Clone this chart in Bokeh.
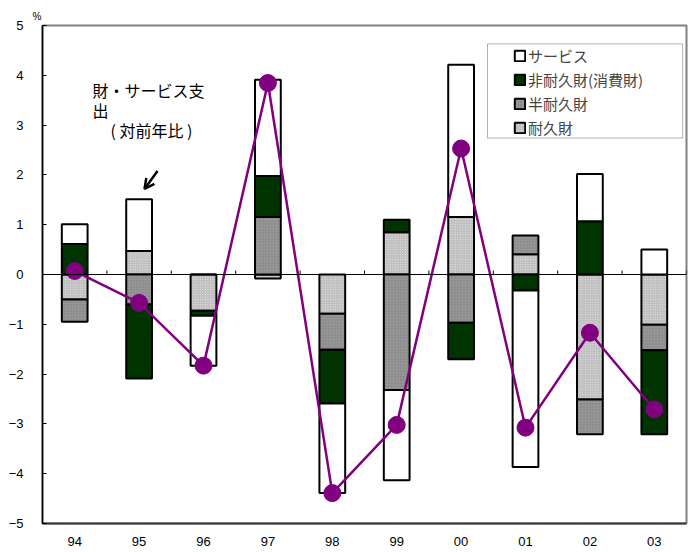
import numpy as np
from bokeh.plotting import figure
from bokeh.models import (Range1d, FixedTicker, Span, Label, Arrow, OpenHead,
                          Legend, LegendItem, BoxAnnotation, ColumnDataSource)
from bokeh.embed import file_html
from bokeh.resources import INLINE

# Contributions to year-on-year change in goods & services spending (%)
years = ["94", "95", "96", "97", "98", "99", "00", "01", "02", "03"]
durables = [-0.50, 0.47, -0.73, -0.08, -0.79, 0.85, 1.155, 0.405, -2.51, -1.01]
semi_durables = [-0.45, -0.60, 0.0, 1.155, -0.72, -2.32, -0.97, 0.38, -0.70, -0.51]
non_durables = [0.61, -1.49, -0.10, 0.825, -1.08, 0.25, -0.73, -0.32, 1.07, -1.69]
services = [0.40, 1.04, -1.00, 1.93, -1.80, -1.81, 3.055, -3.545, 0.95, 0.50]
total = [0.07, -0.57, -1.83, 3.845, -4.39, -3.02, 2.53, -3.075, -1.17, -2.71]

y_ticks = [-5, -4, -3, -2, -1, 0, 1, 2, 3, 4, 5]

JP = "Noto Sans CJK JP"
NUM = "Liberation Sans"

n = len(years)
xs = np.arange(n) + 0.5

p = figure(width=690, height=552, x_range=Range1d(0, n), y_range=Range1d(-5, 5),
           output_backend="svg", toolbar_location=None,
           min_border_left=42, min_border_right=4, min_border_top=25,
           min_border_bottom=29)
p.xgrid.visible = False
p.ygrid.visible = False
p.outline_line_color = "#808080"
p.outline_line_width = 2

# unit mark above the value axis
p.title.text = "%"
p.title.align = "left"
p.title.offset = -10
p.title.standoff = 7
p.title.text_font = NUM
p.title.text_font_size = "10px"
p.title.text_font_style = "normal"
p.title.text_color = "black"

# stacked segments: positives stack upward, negatives downward, same order
series = [
    ("耐久財", durables, dict(fill_color="white", hatch_pattern="\\",
                             hatch_color="#b4b4b4", hatch_scale=2.5, hatch_weight=1)),
    ("半耐久財", semi_durables, dict(fill_color="#969696", hatch_pattern=".",
                                 hatch_color="#7c7c7c", hatch_scale=3, hatch_weight=1)),
    ("非耐久財(消費財)", non_durables, dict(fill_color="#003300")),
    ("サービス", services, dict(fill_color="white")),
]

pos_base = np.zeros(n)
neg_base = np.zeros(n)
renderers = {}
for name, vals, style in series:
    v = np.array(vals, dtype=float)
    bottom = np.where(v >= 0, pos_base, neg_base)
    top = bottom + v
    pos_base = np.where(v >= 0, top, pos_base)
    neg_base = np.where(v < 0, top, neg_base)
    src = ColumnDataSource(dict(x=xs, bottom=bottom, top=top))
    r = p.vbar(x="x", width=0.4, bottom="bottom", top="top", source=src,
               line_color="black", line_width=2, **style)
    renderers[name] = r

# zero line with category-boundary ticks
p.add_layout(Span(location=0, dimension="width", line_color="black", line_width=1))
bounds = np.arange(1, n + 1)
p.segment(x0=bounds, y0=np.zeros(n), x1=bounds, y1=np.full(n, 0.08),
          line_color="black", line_width=1)

# total line
p.line(xs, total, line_color="#800080", line_width=2.5)
p.scatter(xs, total, size=17, fill_color="#800080", line_color="#800080")

# axes
p.xaxis.ticker = FixedTicker(ticks=list(xs))
p.xaxis.major_label_overrides = {float(x): y for x, y in zip(xs, years)}
p.xaxis.major_tick_in = 0
p.xaxis.major_tick_out = 0
p.xaxis.minor_tick_line_color = None
p.xaxis.axis_line_color = "#3a3a3a"
p.xaxis.axis_line_width = 2
p.xaxis.major_label_standoff = 13
p.xaxis.major_label_text_font = NUM
p.xaxis.major_label_text_font_size = "13px"
p.xaxis.major_label_text_color = "black"

p.yaxis.ticker = FixedTicker(ticks=y_ticks)
p.yaxis.major_tick_in = 4
p.yaxis.major_tick_out = 0
p.yaxis.minor_tick_line_color = None
p.yaxis.axis_line_color = "black"
p.yaxis.axis_line_width = 1.5
p.yaxis.major_label_standoff = 19
p.yaxis.major_label_text_font = NUM
p.yaxis.major_label_text_font_size = "13px"
p.yaxis.major_label_text_color = "black"

# annotation text and arrow
for txt, tx, ty in [("財・サービス支", 0.776, 3.70), ("出", 0.776, 3.31),
                    ("( 対前年比 )", 1.056, 2.91)]:
    p.add_layout(Label(x=tx, y=ty, text=txt, text_font=JP, text_font_size="16px",
                       text_baseline="middle", text_color="black"))
p.add_layout(Arrow(end=OpenHead(size=10, line_width=2.5, line_color="black"),
                   x_start=1.786, y_start=2.08, x_end=1.584, y_end=1.717,
                   line_width=2.5, line_color="black"))

# legend frame and legend
p.add_layout(BoxAnnotation(left=6.91, right=9.94, top=4.63, bottom=2.74,
                           fill_color="white", fill_alpha=1.0,
                           line_color="black", line_width=1))
legend = Legend(items=[LegendItem(label=name, renderers=[renderers[name]])
                       for name in ["サービス", "非耐久財(消費財)", "半耐久財", "耐久財"]],
                location="top_right", margin=18, padding=2, spacing=3,
                glyph_width=13, glyph_height=13, label_height=20, label_width=138,
                label_standoff=2, label_text_font=JP, label_text_font_size="15px",
                border_line_alpha=0, background_fill_alpha=0)
p.add_layout(legend)

open("out.html", "w").write(file_html(p, INLINE))
